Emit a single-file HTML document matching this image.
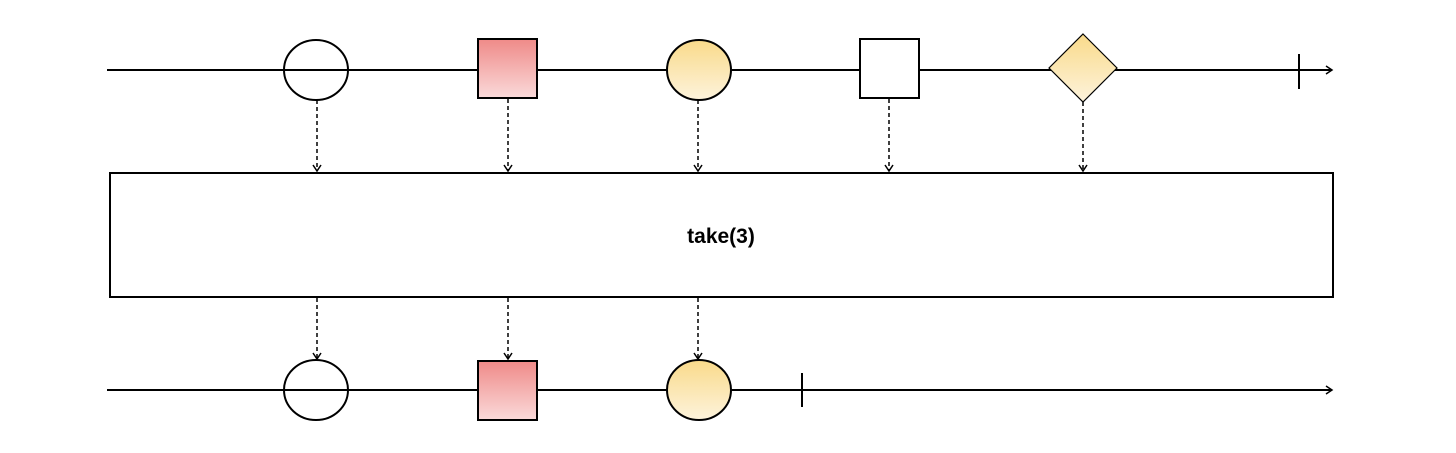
<!DOCTYPE html>
<html><head><style>body{margin:0;background:#fff}</style></head><body>
<svg width="1456" height="448" viewBox="0 0 1456 448" xmlns="http://www.w3.org/2000/svg">
<defs>
<linearGradient id="r" x1="0" y1="0" x2="0" y2="1"><stop offset="0" stop-color="#ef8a88"/><stop offset="1" stop-color="#fadada"/></linearGradient>
<linearGradient id="y" x1="0" y1="0" x2="0" y2="1"><stop offset="0" stop-color="#f9da8a"/><stop offset="1" stop-color="#fdf3dc"/></linearGradient>
<marker id="a" markerWidth="10" markerHeight="10" refX="8" refY="5" orient="auto" markerUnits="userSpaceOnUse"><path d="M2,1 L8,5 L2,9" fill="none" stroke="#000" stroke-width="1.5"/></marker>
</defs>
<g stroke="#000" stroke-width="2" fill="none">
<line x1="107" y1="70" x2="1332" y2="70" marker-end="url(#a)"/>
<line x1="1299" y1="54" x2="1299" y2="89"/>
<line x1="107" y1="390" x2="1332" y2="390" marker-end="url(#a)"/>
<line x1="802" y1="373" x2="802" y2="407"/>
</g>
<g stroke="#000" stroke-width="1.5" stroke-dasharray="4,3" fill="none">
<line x1="317" y1="100" x2="317" y2="171" marker-end="url(#a)"/>
<line x1="508" y1="99" x2="508" y2="171" marker-end="url(#a)"/>
<line x1="698" y1="100" x2="698" y2="171" marker-end="url(#a)"/>
<line x1="889" y1="99" x2="889" y2="171" marker-end="url(#a)"/>
<line x1="1083" y1="102" x2="1083" y2="171" marker-end="url(#a)"/>
<line x1="317" y1="298" x2="317" y2="359" marker-end="url(#a)"/>
<line x1="508" y1="298" x2="508" y2="359" marker-end="url(#a)"/>
<line x1="698" y1="298" x2="698" y2="359" marker-end="url(#a)"/>
</g>
<g stroke="#000" stroke-width="2">
<ellipse cx="316" cy="70" rx="32" ry="30" fill="none"/>
<rect x="478" y="39" width="59" height="59" fill="url(#r)"/>
<ellipse cx="699" cy="70" rx="32" ry="30" fill="url(#y)"/>
<rect x="860" y="39" width="59" height="59" fill="#fff"/>
<polygon points="1083,34 1117,68 1083,102 1049,68" fill="url(#y)" stroke-width="1.2"/>
<rect x="110" y="173" width="1223" height="124" fill="#fff"/>
<ellipse cx="316" cy="390" rx="32" ry="30" fill="none"/>
<rect x="478" y="361" width="59" height="59" fill="url(#r)"/>
<ellipse cx="699" cy="390" rx="32" ry="30" fill="url(#y)"/>
</g>
<text x="721" y="243" text-anchor="middle" font-family="Liberation Sans, sans-serif" font-weight="bold" font-size="21">take(3)</text>
</svg>
</body></html>
